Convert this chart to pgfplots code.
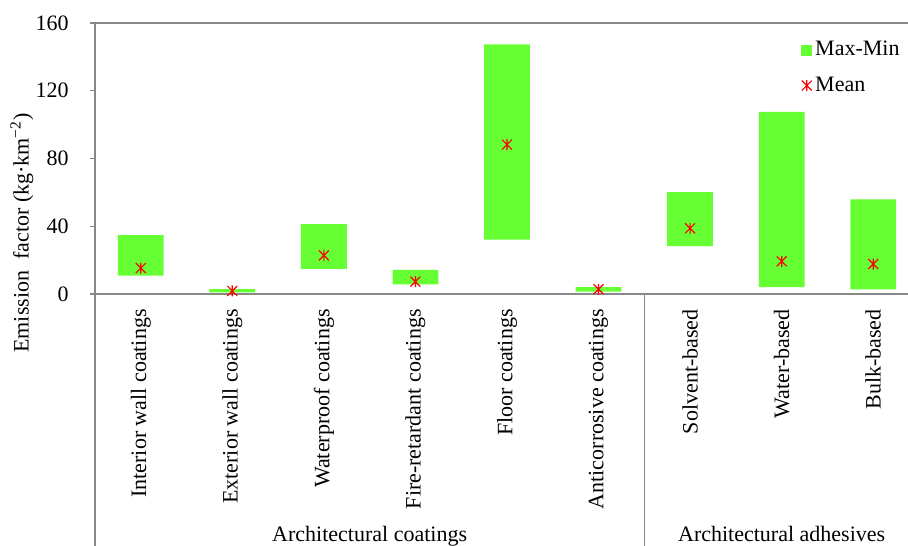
\documentclass[border=0pt]{standalone}
\usepackage{fontspec}
\setmainfont{Liberation Serif}
\usepackage{pgfplots}
\pgfplotsset{compat=1.18}
\usepackage{pgfplotstable}
\definecolor{barfill}{HTML}{66FF33}
\definecolor{axgray}{HTML}{888888}
\newcommand\fsz{\fontsize{11}{13.2}\selectfont}

\pgfdeclareplotmark{xstar}{%
  \pgfpathmoveto{\pgfqpoint{-0.9\pgfplotmarksize}{-0.9\pgfplotmarksize}}%
  \pgfpathlineto{\pgfqpoint{0.9\pgfplotmarksize}{0.9\pgfplotmarksize}}%
  \pgfpathmoveto{\pgfqpoint{-0.9\pgfplotmarksize}{0.9\pgfplotmarksize}}%
  \pgfpathlineto{\pgfqpoint{0.9\pgfplotmarksize}{-0.9\pgfplotmarksize}}%
  \pgfpathmoveto{\pgfqpoint{0pt}{-\pgfplotmarksize}}%
  \pgfpathlineto{\pgfqpoint{0pt}{\pgfplotmarksize}}%
  \pgfusepathqstroke}

\pgfplotstableread{
x lo range mean
0 10.8 24.0 15.3
1 0.9 2.0 1.8
2 14.9 26.4 22.8
3 5.7 8.5 7.3
4 32.1 115.3 88.2
5 1.4 2.6 2.8
6 28.3 31.9 38.8
7 4.0 103.6 19.3
8 2.8 53.1 17.7
}\data

\pgfplotsset{common/.style={
  scale only axis, width=406.5pt, height=135.5pt,
  at={(0,0)}, anchor=south west,
  xmin=-0.5, xmax=8.38, ymin=0, ymax=160,
  enlargelimits=false,
}}

\begin{document}
\begin{tikzpicture}
\begin{axis}[common,
  ybar stacked, bar width=0.5,
  axis x line=box, axis y line=left,
  axis line style={-, draw=axgray, line width=0.7pt},
  ytick={0,40,...,160},
  tick align=outside, major tick length=2.5pt,
  ytick style={draw=axgray, line width=0.7pt},
  xtick={0,...,8},
  xticklabels={Interior wall coatings, Exterior wall coatings, Waterproof coatings, Fire-retardant coatings, Floor coatings, Anticorrosive coatings, Solvent-based, Water-based, Bulk-based},
  xtick style={draw=none},
  xticklabel style={rotate=90, anchor=east, inner sep=0pt},
  xticklabel shift=5pt,
  yticklabel style={inner sep=0pt, anchor=east},
  yticklabel shift=10.5pt,
  tick label style={font=\fsz},
  /pgf/number format/assume math mode=true,
  ylabel={Emission~ factor (kg·km\textsuperscript{−2})},
  every axis y label/.style={at={(axis description cs:-0.0898,0.225)}, rotate=90, anchor=center, font=\fsz},
  clip=false,
]
\addplot[draw=none, fill=none, forget plot] table[x=x, y=lo] {\data};
\addplot[draw=none, fill=barfill, forget plot] table[x=x, y=range] {\data};
\draw[axgray, line width=0.7pt] (axis cs:-0.5,0) -- ++(0pt,-126pt);
\draw[axgray, line width=0.7pt] (axis cs:5.5,0) -- ++(0pt,-126pt);
\node[anchor=base, font=\fsz, inner sep=0pt] at ([yshift=-123.5pt]axis cs:2.5,0) {Architectural coatings};
\node[anchor=base, font=\fsz, inner sep=0pt] at ([yshift=-123.5pt]axis cs:7,0) {Architectural adhesives};
\end{axis}
\begin{axis}[common, hide axis, clip=false,
  legend style={draw=none, fill=none, at={(axis description cs:0.8684,0.945)}, anchor=north west,
    inner sep=0pt, row sep=6pt, font=\fsz, nodes={inner sep=1.5pt}},
  legend cell align=left,
]
\addlegendimage{legend image code/.code={\fill[barfill] (0pt,-2.5pt) rectangle (5pt,2.5pt);}}
\addlegendentry{Max-Min}
\addplot[only marks, mark=xstar, red, mark size=2.75pt, line width=0.6pt,
  legend image code/.code={\draw[red, line width=0.6pt, mark size=2.75pt] plot[mark=xstar] coordinates {(2.5pt,0pt)};}]
  table[x=x, y=mean] {\data};
\addlegendentry{Mean}
\end{axis}
\pgfresetboundingbox
\path[use as bounding box] (-47.5pt,-125.5pt) rectangle (406.5pt,147pt);
\end{tikzpicture}
\end{document}
